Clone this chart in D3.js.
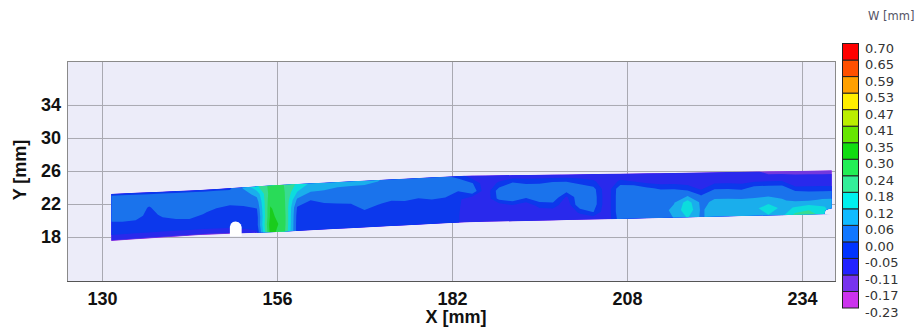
<!DOCTYPE html>
<html>
<head>
<meta charset="UTF-8">
<title>W [mm]</title>
<script src="https://cdn.jsdelivr.net/npm/d3@7.8.5/dist/d3.min.js"></script>
<style>
  body { margin: 0; background: #fff; }
  svg { display: block; }
  .axis-label { font-family: "Liberation Sans", Arial, sans-serif; font-weight: bold; font-size: 18px; fill: #111; }
  .tick text { font-family: "Liberation Sans", Arial, sans-serif; font-weight: bold; font-size: 18px; fill: #111; }
  .legend-label { font-family: "DejaVu Sans", Verdana, sans-serif; font-size: 13px; fill: #333; }
  .legend-title { font-family: "DejaVu Sans", Verdana, sans-serif; font-size: 11.5px; fill: #556; }
</style>
</head>
<body>
<svg id="chart" width="919" height="328"></svg>
<script>
// tick labels
const xTicks = [130, 156, 182, 208, 234];
const yTicks = [18, 22, 26, 30, 34];

// colour bins of the W scale (bottom -> top)
const wThresholds = [-0.23, -0.17, -0.11, -0.05, 0.00, 0.06, 0.12, 0.18, 0.24, 0.30, 0.35, 0.41, 0.47, 0.53, 0.59, 0.65, 0.70];
const wLabels = ["-0.23", "-0.17", "-0.11", "-0.05", "0.00", "0.06", "0.12", "0.18", "0.24", "0.30", "0.35", "0.41", "0.47", "0.53", "0.59", "0.65", "0.70"];
const wColors = ["#cc33ee", "#7733ee", "#2222ff", "#0033ff", "#1177ff", "#11bbff", "#00f0ee", "#33ee99",
                 "#22ee55", "#11dd11", "#66e600", "#bbee00", "#ffee00", "#ffa000", "#ff5000", "#ff0000"];

// specimen outline [mm]
const edgeX      = [131.4, 144.6, 156.0, 183.9, 211.4, 238.4];
const edgeTop    = [23.23, 23.70, 24.30, 25.43, 25.72, 26.08];
const edgeBottom = [17.52, 18.24, 18.61, 19.78, 20.27, 20.79];
const rightNotch = [[238.4, 21.5], [237.5, 21.3], [237.3, 20.8]];
const holeOutline = [[149.0, 18.1], [149.0, 19.25], [149.15, 19.6], [149.45, 19.82], [149.85, 19.88],
                     [150.3, 19.8], [150.6, 19.55], [150.75, 19.2], [150.75, 18.1]];

// measurement columns along X [mm]
const gridX = [131, 133, 135, 137, 139, 141, 143, 145, 147, 149, 151, 153, 155, 157, 159, 161, 163, 165, 167, 169,
               171, 173, 175, 177, 179, 181, 183, 185, 187, 189, 191, 193, 195, 197, 199, 201, 203, 205, 207, 209,
               211, 213, 215, 217, 219, 221, 223, 225, 227, 229, 231, 233, 235, 237, 239];

// W [mm] read across the strip, top edge -> bottom edge
const wTop = [-0.01, -0.01, -0.01, -0.01, -0.01, -0.01, -0.01, -0.01, -0.01, -0.01,
              0.07, 0.17, 0.26, 0.24, 0.17, 0.11, 0.10, 0.09, 0.09, 0.085,
              0.065, 0.03, 0.03, 0.03, 0.025, 0.01, -0.02, -0.09, -0.09, -0.09,
              -0.09, -0.09, -0.09, -0.09, -0.09, -0.09, -0.09, -0.09, -0.09, -0.09,
              -0.09, -0.09, -0.09, -0.09, -0.09, -0.09, -0.09, -0.09, -0.10, -0.13,
              -0.13, -0.13, -0.13, -0.13, -0.13];
const wRow1 = [0.03, 0.03, 0.03, 0.03, 0.03, 0.03, 0.03, 0.03, 0.03, 0.03,
               0.03, 0.08, 0.27, 0.25, 0.12, 0.065, 0.058, 0.045, 0.04, 0.04,
               0.04, 0.035, 0.035, 0.035, 0.035, 0.035, 0.035, 0.005, -0.09, -0.04,
               0.002, -0.01, -0.01, 0.002, 0.002, -0.02, -0.04, -0.09, -0.04, -0.055,
               -0.08, -0.09, -0.09, -0.09, -0.09, -0.08, -0.08, -0.08, -0.08, -0.08,
               -0.08, -0.09, -0.09, -0.09, -0.09];
const wRow2 = [0.03, 0.03, 0.03, -0.005, 0.03, 0.03, 0.03, 0.03, 0.03, 0.009,
               0.02, 0.03, 0.29, 0.26, 0.05, 0.005, 0.03, 0.03, 0.03, 0.03,
               0.03, 0.03, 0.03, 0.03, 0.03, 0.02, -0.002, 0.045, -0.09, 0.03,
               0.045, 0.045, 0.045, 0.045, 0.03, 0.045, 0.02, -0.09, 0.04, 0.045,
               0.01, -0.01, -0.01, -0.03, -0.07, -0.02, -0.02, -0.03, 0.002, 0.005,
               0.005, -0.06, -0.06, -0.06, -0.06];
const wRow3 = [0.03, 0.045, 0.03, -0.025, 0.013, 0.055, 0.03, 0.009, -0.025, -0.025,
               -0.025, -0.005, 0.305, 0.27, -0.005, -0.025, -0.02, -0.01, -0.005, 0.03,
               0.005, -0.01, -0.005, -0.02, -0.005, -0.01, -0.04, -0.09, -0.09, 0.02,
               0.04, 0.002, 0.04, 0.04, -0.06, 0.045, 0.03, -0.09, 0.045, 0.045,
               0.045, 0.045, 0.045, 0.045, -0.005, 0.045, 0.045, 0.04, 0.045, 0.045,
               0.045, 0.02, 0.01, 0.01, 0.01];
const wRow4 = [-0.025, -0.025, -0.025, -0.03, -0.025, -0.025, -0.008, -0.025, -0.03, -0.03,
               -0.03, -0.025, 0.31, 0.28, -0.02, -0.03, -0.03, -0.03, -0.03, -0.01,
               -0.025, -0.025, -0.025, -0.03, -0.03, -0.035, -0.045, -0.09, -0.09, -0.09,
               -0.06, -0.09, -0.03, -0.02, -0.09, 0.045, 0.03, -0.09, 0.045, 0.045,
               0.045, 0.045, 0.058, 0.15, 0.045, 0.07, 0.07, 0.07, 0.07, 0.08,
               0.065, 0.05, 0.05, 0.065, 0.065];
const wRow5 = [-0.03, -0.03, -0.03, -0.03, -0.03, -0.03, -0.03, -0.03, -0.03, -0.03,
               -0.03, -0.025, 0.33, 0.28, -0.025, -0.03, -0.03, -0.03, -0.03, -0.03,
               -0.03, -0.03, -0.03, -0.03, -0.035, -0.04, -0.048, -0.09, -0.09, -0.09,
               -0.09, -0.09, -0.09, -0.09, -0.09, -0.04, 0.002, -0.09, 0.045, 0.045,
               0.045, 0.045, 0.07, 0.17, 0.05, 0.09, 0.10, 0.10, 0.10, 0.17,
               0.10, 0.125, 0.15, 0.125, 0.10];
const wBottom = [-0.12, -0.12, -0.12, -0.12, -0.12, -0.12, -0.12, -0.12, -0.12, -0.12,
                 -0.08, -0.06, 0.32, 0.27, -0.025, -0.03, -0.03, -0.03, -0.03, -0.03,
                 -0.03, -0.03, -0.03, -0.03, -0.04, -0.045, -0.048, -0.09, -0.09, -0.09,
                 -0.09, -0.09, -0.09, -0.09, -0.09, -0.09, -0.09, -0.09, 0.03, 0.03,
                 0.035, 0.035, 0.062, 0.125, 0.05, 0.09, 0.10, 0.10, 0.10, 0.115,
                 0.10, 0.20, 0.22, 0.15, 0.10];

const wRows = [wTop, wRow1, wRow2, wRow3, wRow4, wRow5, wBottom];

// layout
const plot = { left: 67, top: 61, right: 835, bottom: 281 };
const svg = d3.select("#chart");

const x = d3.scaleLinear().domain([124.8, 238.9]).range([plot.left, plot.right]);
const y = d3.scaleLinear().domain([12.67, 39.33]).range([plot.bottom, plot.top]);

// plot background
svg.append("rect")
    .attr("x", plot.left).attr("y", plot.top)
    .attr("width", plot.right - plot.left).attr("height", plot.bottom - plot.top)
    .attr("fill", "#ececf9");

// grid
svg.append("g")
    .attr("transform", `translate(0,${plot.bottom})`)
    .call(d3.axisBottom(x).tickValues(xTicks).tickSize(-(plot.bottom - plot.top)).tickFormat(""))
    .call(g => g.select(".domain").remove())
    .call(g => g.selectAll("line").attr("stroke", "#a9a9b2"));
svg.append("g")
    .attr("transform", `translate(${plot.left},0)`)
    .call(d3.axisLeft(y).tickValues(yTicks).tickSize(-(plot.right - plot.left)).tickFormat(""))
    .call(g => g.select(".domain").remove())
    .call(g => g.selectAll("line").attr("stroke", "#a9a9b2"));

// strip field
const n = gridX.length, m = wRows.length;
const values = [];
wRows.forEach(row => row.forEach(v => values.push(v)));

const colAt = d3.scaleLinear().domain(d3.range(n)).range(gridX);
const topAt = d3.scaleLinear().domain(edgeX).range(edgeTop);
const botAt = d3.scaleLinear().domain(edgeX).range(edgeBottom);

// grid coordinates of d3.contours -> screen
function project(p) {
    const fi = Math.max(0, Math.min(n - 1, p[0] - 0.5));
    const fj = Math.max(0, Math.min(m - 1, p[1] - 0.5));
    const X = colAt(fi);
    const t = topAt(X), b = botAt(X);
    const Y = t + (fj / (m - 1)) * (b - t);
    return [x(X), y(Y)];
}

const outline = edgeX.map((d, i) => [d, edgeTop[i]])
    .concat(rightNotch)
    .concat(edgeX.map((d, i) => [d, edgeBottom[i]]).reverse());

const line = d3.line().x(d => x(d[0])).y(d => y(d[1]));

svg.append("clipPath").attr("id", "strip-clip")
    .append("path").attr("d", line(outline) + "Z");

const field = svg.append("g").attr("clip-path", "url(#strip-clip)");

const contours = d3.contours().size([n, m]).thresholds(wThresholds.slice(0, -1))(values);
const binColor = d3.scaleThreshold().domain(wThresholds.slice(1, -1)).range(wColors);

field.selectAll("path.band")
    .data(contours)
    .join("path")
    .attr("class", "band")
    .attr("fill", d => binColor(d.value + 1e-6))
    .attr("fill-rule", "evenodd")
    .attr("d", d => d.coordinates.map(poly =>
        poly.map(ring => "M" + ring.map(p => project(p).join(",")).join("L") + "Z").join("")
    ).join(""));

// light shading of the surface
field.append("path")
    .attr("d", line(outline) + "Z")
    .attr("fill", "#5a5a70")
    .attr("opacity", 0.13);

// hole in the specimen
svg.append("path")
    .attr("d", line(holeOutline) + "Z")
    .attr("fill", "#ffffff");

// frame
svg.append("rect")
    .attr("x", plot.left + 0.5).attr("y", plot.top + 0.5)
    .attr("width", plot.right - plot.left).attr("height", plot.bottom - plot.top)
    .attr("fill", "none").attr("stroke", "#8a8a8a");
svg.append("line")
    .attr("x1", plot.left).attr("x2", plot.right + 1)
    .attr("y1", plot.bottom + 0.5).attr("y2", plot.bottom + 0.5)
    .attr("stroke", "#555");

// tick labels
svg.append("g")
    .attr("transform", `translate(0,${plot.bottom})`)
    .call(d3.axisBottom(x).tickValues(xTicks).tickSize(0).tickPadding(11))
    .call(g => g.select(".domain").remove());
svg.append("g")
    .attr("transform", `translate(${plot.left},0)`)
    .call(d3.axisLeft(y).tickValues(yTicks).tickSize(0).tickPadding(6))
    .call(g => g.select(".domain").remove());

svg.append("text").attr("class", "axis-label")
    .attr("x", 456).attr("y", 323).attr("text-anchor", "middle")
    .text("X [mm]");
svg.append("text").attr("class", "axis-label")
    .attr("transform", "translate(26,170) rotate(-90)").attr("text-anchor", "middle")
    .text("Y [mm]");

// colour bar
const nBins = wColors.length;
const yL = d3.scaleLinear().domain([0, nBins]).range([308, 43.5]);
const legend = svg.append("g");

legend.selectAll("rect")
    .data(wColors)
    .join("rect")
    .attr("x", 842.5)
    .attr("y", (d, i) => yL(i + 1))
    .attr("width", 16)
    .attr("height", (d, i) => yL(i) - yL(i + 1))
    .attr("fill", d => d)
    .attr("stroke", "#222")
    .attr("stroke-width", 1);

legend.selectAll("text.legend-label")
    .data(wLabels)
    .join("text")
    .attr("class", "legend-label")
    .attr("x", 865)
    .attr("y", (d, i) => yL(i) + 4.5)
    .attr("dominant-baseline", "central")
    .text(d => d);

svg.append("text").attr("class", "legend-title")
    .attr("x", 868).attr("y", 20)
    .text("W [mm]");
</script>
</body>
</html>
